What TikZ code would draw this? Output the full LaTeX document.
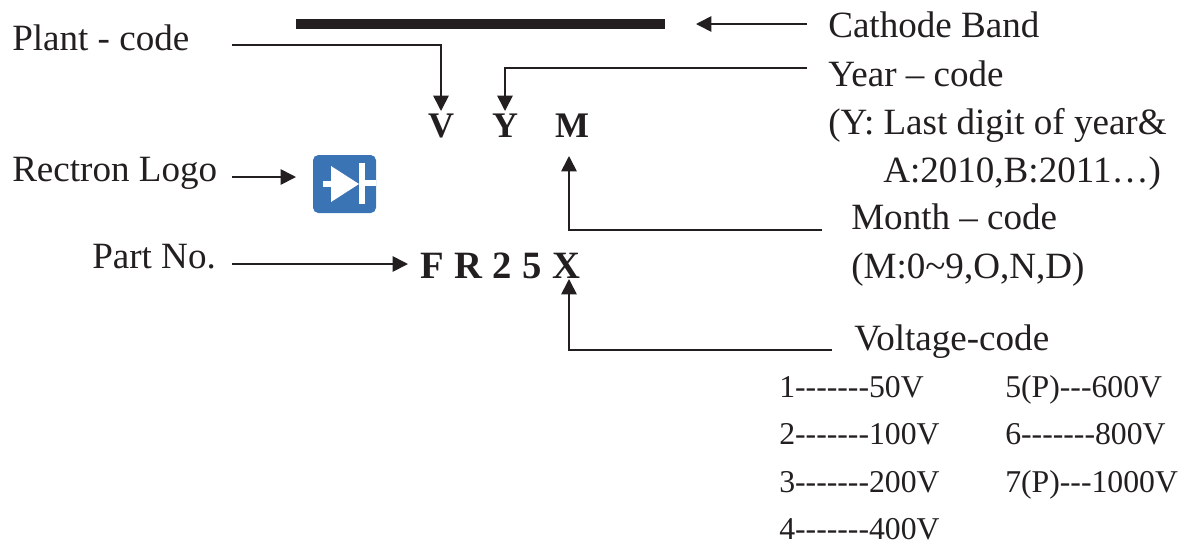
\documentclass[tikz,border=0pt]{standalone}
\usepackage{fontspec}
\setmainfont{Liberation Serif}
\usetikzlibrary{arrows.meta}
\definecolor{logoblue}{HTML}{3A74B5}
\definecolor{ink}{HTML}{231F20}
\tikzset{
  lab/.style={inner sep=0pt,anchor=base west,text=ink,font=\fontsize{27.8}{27.8}\selectfont},
  small/.style={inner sep=0pt,anchor=base west,text=ink,font=\fontsize{23.8}{23.8}\selectfont},
  code/.style={inner sep=0pt,anchor=base,text=ink,font=\fontsize{27}{27}\selectfont\bfseries},
  conn/.style={draw=ink,line width=1.25pt,-{Triangle[length=11.5pt,width=11.5pt]}}
}
\begin{document}
\begin{tikzpicture}[x=0.75pt,y=-0.75pt]
\useasboundingbox (0,0) rectangle (1191,544);
\fill[ink] (296,19) rectangle (665,29);
\node[lab] (cb) at (828,37) {Cathode Band};
\node[lab] (pc) at (12,50) {Plant - code};
\node[lab] (yc) at (828,86) {Year – code};
\node[lab] (y1) at (828,134) {(Y: Last digit of year\&};
\node[lab] (y2) at (883,182) {A:2010,B:2011…)};
\node[lab] (rl) at (12,181) {Rectron Logo};
\node[lab] (mc) at (851,229) {Month – code};
\node[lab] (m1) at (851,278) {(M:0\textasciitilde 9,O,N,D)};
\node[lab] (pn) at (92,268) {Part No.};
\node[lab] (vc) at (854,350) {Voltage-code};
\node[code] (V) at (441,137) {V};
\node[code] (Y) at (505,137) {Y};
\node[code] (M) at (572,137) {M};
\node[code,anchor=base west,font=\fontsize{29}{29}\selectfont\bfseries] (P) at (420,278) {\spaceskip=7.9pt F R 2 5 X};
\node[small] (a1) at (779,397) {1-{}-{}-{}-{}-{}-{}-50V};
\node[small] (a2) at (779,444) {2-{}-{}-{}-{}-{}-{}-100V};
\node[small] (a3) at (779,492) {3-{}-{}-{}-{}-{}-{}-200V};
\node[small] (a4) at (779,539) {4-{}-{}-{}-{}-{}-{}-400V};
\node[small] (b1) at (1005,397) {5(P)-{}-{}-600V};
\node[small] (b2) at (1005,444) {6-{}-{}-{}-{}-{}-{}-800V};
\node[small] (b3) at (1005,492) {7(P)-{}-{}-1000V};
\fill[logoblue,rounded corners=4pt] (313,155) rectangle (376,213);
\fill[white] (331,166) -- (331,202) -- (359,184) -- cycle;
\fill[white] (359,163) rectangle (365,204);
\fill[white] (323,181) rectangle (332,187);
\fill[white] (365,180) rectangle (376,186);
\coordinate (c1) at (807,24);
\coordinate (c1e) at (696,24);
\draw[conn] (c1) -- (c1e);
\coordinate (c2) at (232,45);
\coordinate (c2e) at (441,111);
\draw[conn] (c2) -| (c2e);
\coordinate (c3) at (807,68);
\coordinate (c3e) at (505,111);
\draw[conn] (c3) -| (c3e);
\coordinate (c4) at (232,177);
\coordinate (c4e) at (296,177);
\draw[conn] (c4) -- (c4e);
\coordinate (c5) at (822,230);
\coordinate (c5e) at (569,156);
\draw[conn] (c5) -| (c5e);
\coordinate (c6) at (232,264);
\coordinate (c6e) at (408,264);
\draw[conn] (c6) -- (c6e);
\coordinate (c7) at (832,350);
\coordinate (c7e) at (569,279);
\draw[conn] (c7) -| (c7e);
\end{tikzpicture}
\end{document}
